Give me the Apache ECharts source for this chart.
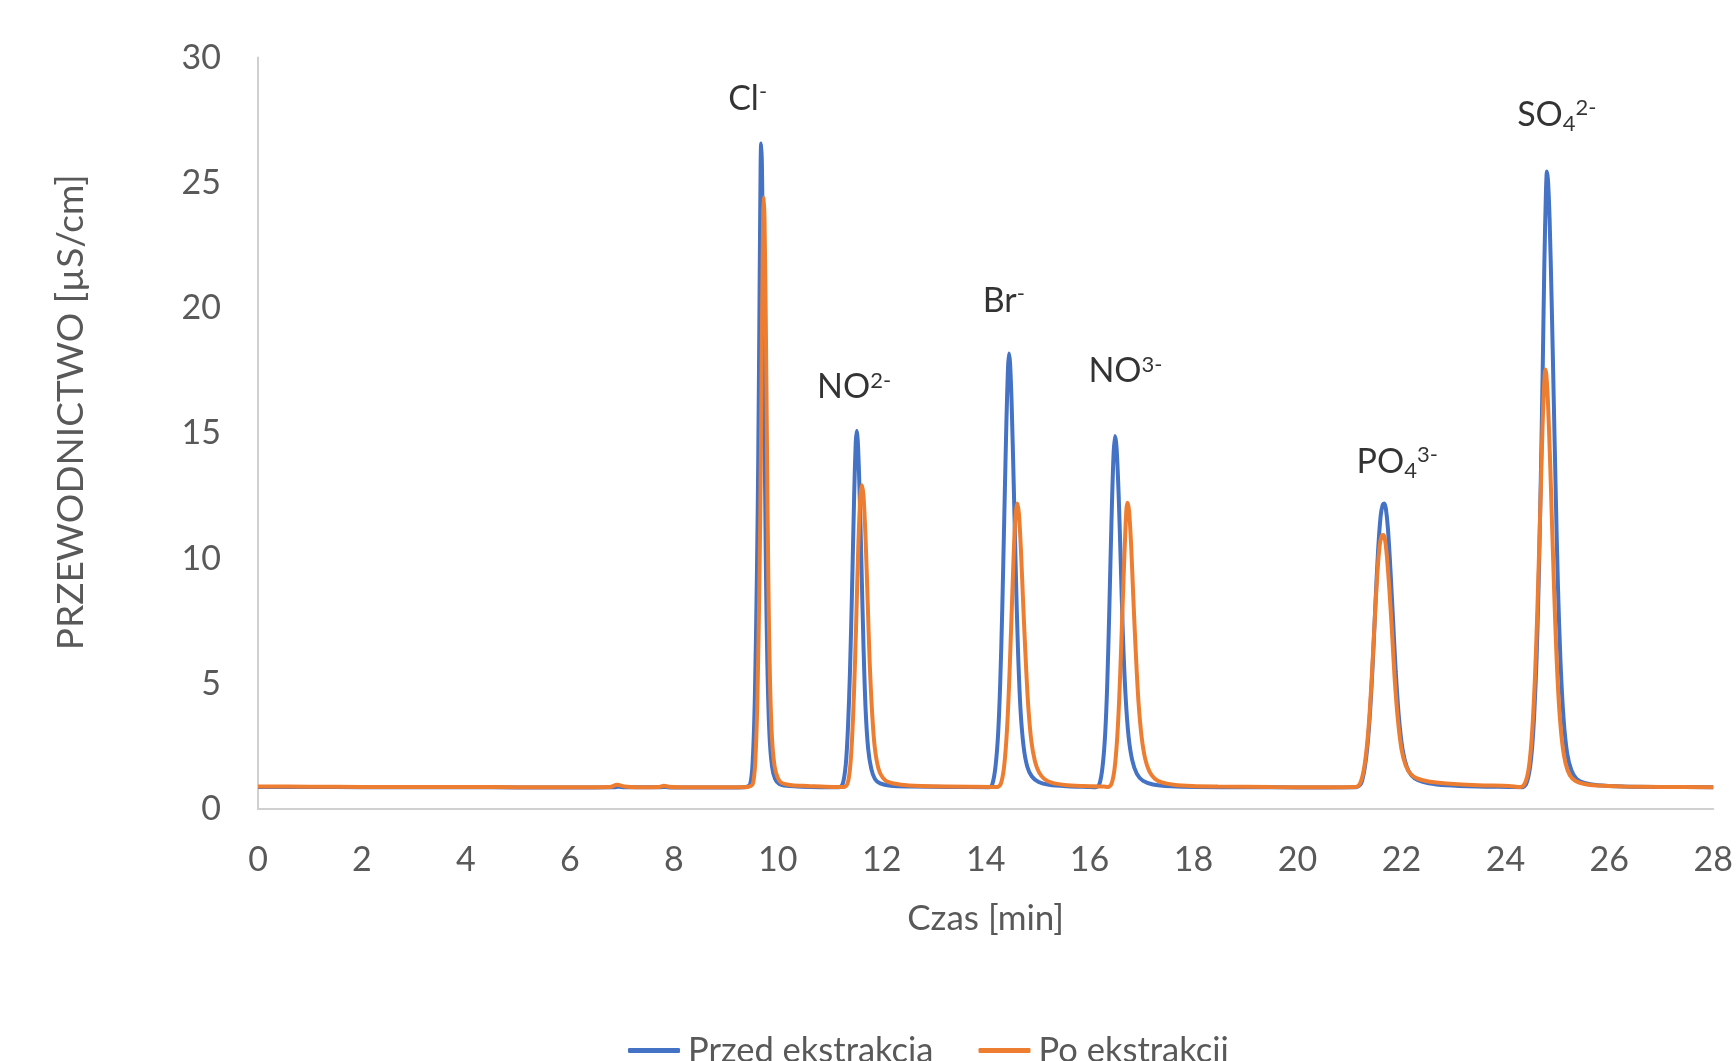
<!DOCTYPE html>
<html>
<head>
<meta charset="utf-8">
<script src="https://cdn.jsdelivr.net/npm/echarts@6/dist/echarts.min.js"></script>
<style>html,body{margin:0;padding:0;background:#fff;}#c{width:1736px;height:1061px;}</style>
</head>
<body>
<div id="c"></div>
<script>
// ---- data (time [min], conductivity [µS/cm]) ----
const seriesNames = ['Przed ekstrakcja', 'Po ekstrakcji'];

const przedData = [
[0,0.88],[1,0.88],[2,0.87],[3,0.87],[4,0.87],[5,0.86],[6,0.86],[6.85,0.87],[6.93,0.89],[7.05,0.87],[7.75,0.87],[7.83,0.88],[7.95,0.86],[9,0.86],
[9.37,0.87],[9.47,1.0],[9.52,2.0],[9.56,4.5],[9.60,9.5],[9.625,14],[9.65,20.5],[9.67,25.6],[9.68,26.57],[9.695,25.8],[9.72,21.5],[9.745,15.5],[9.77,10.0],[9.80,5.8],[9.84,3.0],[9.89,1.7],[9.95,1.2],[10.03,1.0],[10.17,0.93],[10.47,0.89],
[11.17,0.87],[11.25,1.0],[11.31,1.8],[11.35,3.2],[11.39,5.5],[11.43,8.8],[11.47,12.5],[11.50,14.6],[11.52,15.10],[11.54,14.7],[11.57,13.0],[11.61,9.8],[11.65,6.5],[11.69,4.0],[11.74,2.4],[11.80,1.6],[11.87,1.2],[11.97,1.02],[12.17,0.93],[12.57,0.9],[13.27,0.88],
[14.07,0.87],[14.13,1.0],[14.19,1.7],[14.24,3.0],[14.28,5.0],[14.32,8.0],[14.36,11.8],[14.40,15.5],[14.43,17.6],[14.45,18.19],[14.47,17.8],[14.50,16.2],[14.54,13.0],[14.58,9.5],[14.62,6.5],[14.67,4.0],[14.73,2.5],[14.80,1.7],[14.89,1.3],[15.02,1.08],[15.22,0.97],[15.57,0.91],[15.97,0.88],
[16.12,0.87],[16.19,1.0],[16.25,1.7],[16.30,3.0],[16.34,5.0],[16.38,8.0],[16.42,11.4],[16.46,14.1],[16.49,14.89],[16.52,14.4],[16.56,12.5],[16.60,9.8],[16.64,7.0],[16.69,4.6],[16.75,2.9],[16.82,1.95],[16.91,1.4],[17.03,1.12],[17.22,0.98],[17.57,0.91],[18.07,0.88],[19.0,0.87],[20.0,0.86],[21.12,0.87],
[21.22,1.0],[21.29,1.6],[21.35,2.6],[21.40,4.0],[21.45,5.9],[21.50,8.2],[21.55,10.3],[21.60,11.7],[21.64,12.15],[21.67,12.20],[21.70,12.0],[21.74,11.2],[21.79,9.5],[21.84,7.5],[21.89,5.5],[21.95,3.7],[22.02,2.4],[22.10,1.7],[22.19,1.35],[22.32,1.15],[22.52,1.03],[22.87,0.95],[23.47,0.9],[24.07,0.88],
[24.32,0.87],[24.40,1.0],[24.47,1.6],[24.52,2.6],[24.56,4.0],[24.60,6.0],[24.64,9.0],[24.68,13.0],[24.72,17.8],[24.75,21.8],[24.78,24.6],[24.80,25.45],[24.82,25.1],[24.85,23.6],[24.89,20.3],[24.93,16.4],[24.97,12.5],[25.01,9.0],[25.06,5.9],[25.12,3.6],[25.19,2.2],[25.27,1.55],[25.37,1.2],[25.52,1.04],[25.77,0.95],[26.27,0.9],[27.0,0.88],[28.0,0.87]
];

const poData = [
[0,0.90],[1,0.89],[2,0.88],[3,0.88],[4,0.88],[5,0.87],[6,0.87],[6.77,0.88],[6.91,0.97],[7.05,0.90],[7.27,0.87],[7.72,0.88],[7.81,0.93],[7.90,0.89],[8.1,0.87],[9,0.87],
[9.42,0.88],[9.52,1.0],[9.57,2.0],[9.61,4.5],[9.65,9.5],[9.675,14],[9.70,20],[9.72,23.8],[9.73,24.42],[9.745,23.6],[9.77,19.5],[9.795,14.0],[9.82,9.0],[9.85,5.2],[9.89,2.8],[9.94,1.7],[10.00,1.25],[10.07,1.05],[10.27,0.95],[10.57,0.92],[11.07,0.88],
[11.27,0.88],[11.34,1.0],[11.39,1.6],[11.43,2.8],[11.47,4.8],[11.51,7.5],[11.55,10.5],[11.59,12.5],[11.62,12.93],[11.65,12.5],[11.69,10.8],[11.73,8.3],[11.77,5.8],[11.82,3.7],[11.87,2.4],[11.94,1.6],[12.02,1.25],[12.12,1.08],[12.37,0.97],[12.77,0.92],[13.27,0.9],
[14.22,0.88],[14.29,1.0],[14.35,1.6],[14.40,2.8],[14.44,4.4],[14.48,6.6],[14.52,9.0],[14.56,11.2],[14.59,12.0],[14.61,12.20],[14.64,11.8],[14.68,10.3],[14.72,8.3],[14.77,6.0],[14.82,4.1],[14.88,2.7],[14.95,1.9],[15.03,1.45],[15.13,1.2],[15.27,1.05],[15.52,0.96],[15.87,0.92],[16.27,0.9],
[16.35,0.88],[16.42,1.0],[16.48,1.6],[16.53,2.8],[16.57,4.4],[16.61,6.6],[16.65,9.0],[16.69,11.2],[16.71,12.0],[16.73,12.23],[16.76,11.9],[16.80,10.5],[16.84,8.5],[16.89,6.2],[16.94,4.3],[17.00,2.9],[17.07,2.0],[17.15,1.5],[17.25,1.22],[17.39,1.06],[17.62,0.97],[17.97,0.92],[18.47,0.9],[19.5,0.88],[20.5,0.87],
[21.12,0.88],[21.20,1.0],[21.27,1.5],[21.33,2.4],[21.38,3.6],[21.43,5.3],[21.48,7.3],[21.53,9.2],[21.58,10.5],[21.62,10.9],[21.65,10.94],[21.68,10.8],[21.72,10.1],[21.77,8.7],[21.82,7.0],[21.87,5.2],[21.93,3.6],[22.00,2.4],[22.08,1.75],[22.17,1.42],[22.30,1.22],[22.52,1.1],[22.87,1.02],[23.47,0.95],[24.07,0.92],
[24.29,0.88],[24.37,1.0],[24.44,1.5],[24.49,2.4],[24.53,3.6],[24.57,5.3],[24.61,7.6],[24.65,10.4],[24.69,13.4],[24.72,15.6],[24.75,17.1],[24.77,17.55],[24.79,17.3],[24.82,16.2],[24.86,13.9],[24.90,11.2],[24.94,8.6],[24.98,6.3],[25.03,4.2],[25.09,2.7],[25.16,1.8],[25.24,1.35],[25.35,1.12],[25.52,1.0],[25.77,0.94],[26.27,0.9],[27.0,0.88],[28.0,0.87]
];

// peak annotations: position in data units + rich-text label
const peakLabelTimes  = [9.42, 11.47, 14.35, 16.69, 21.92, 24.99];
const peakLabelValues = [28.36, 16.83, 20.28, 17.47, 13.85, 27.70];
const peakLabelTexts  = ['{m|Cl}{p|-}', '{m|NO}{p|2-}', '{m|Br}{p|-}', '{m|NO}{p|3-}', '{m|PO}{s|4}{p|3-}', '{m|SO}{s|4}{p|2-}'];

const xTicks = {min: 0, max: 28, interval: 2};
const yTicks = {min: 0, max: 30, interval: 5};

// ---- chart ----
const FONT = 'Lato';
const GREY = '#595959';
const chart = echarts.init(document.getElementById('c'), null, {renderer: 'canvas'});

const labelData = peakLabelTimes.map((t, i) => ({value: [t, peakLabelValues[i]], text: peakLabelTexts[i]}));

chart.setOption({
  animation: false,
  backgroundColor: '#ffffff',
  textStyle: {fontFamily: FONT},
  grid: {left: 258, right: 13, top: 57.6, bottom: 252, containLabel: false},
  xAxis: {
    type: 'value', min: xTicks.min, max: xTicks.max, interval: xTicks.interval,
    name: 'Czas [min]', nameLocation: 'middle', nameGap: 92,
    nameTextStyle: {fontSize: 35, color: GREY, fontFamily: FONT},
    axisLine: {show: true, onZero: false, lineStyle: {color: '#D0D0D0', width: 2}},
    axisTick: {show: false},
    splitLine: {show: false},
    axisLabel: {fontSize: 34, color: GREY, margin: 34, fontFamily: FONT}
  },
  yAxis: {
    type: 'value', min: yTicks.min, max: yTicks.max, interval: yTicks.interval,
    name: 'PRZEWODNICTWO [µS/cm]', nameLocation: 'middle', nameGap: 168,
    nameTextStyle: {fontSize: 37, color: GREY, fontFamily: FONT, padding: [0, 0, 0, 42]},
    axisLine: {show: true, lineStyle: {color: '#D0D0D0', width: 2}},
    axisTick: {show: false},
    splitLine: {show: false},
    axisLabel: {fontSize: 34, color: GREY, margin: 37, fontFamily: FONT}
  },
  legend: {
    data: seriesNames,
    left: 623, top: 1028,
    icon: 'roundRect', itemWidth: 52, itemHeight: 5, itemGap: 45,
    textStyle: {fontSize: 34.5, color: GREY, fontFamily: FONT, padding: [0, 0, 0, 3]}
  },
  series: [
    {
      name: seriesNames[0], type: 'line', data: przedData, showSymbol: false,
      smooth: 0.3, lineStyle: {color: '#4472C4', width: 4}, itemStyle: {color: '#4472C4'}, z: 2
    },
    {
      name: seriesNames[1], type: 'line', data: poData, showSymbol: false,
      smooth: 0.3, lineStyle: {color: '#ED7D31', width: 4}, itemStyle: {color: '#ED7D31'}, z: 3
    },
    {
      name: 'labels', type: 'scatter', data: labelData, symbolSize: 0, silent: true, z: 4,
      label: {
        show: true, position: 'inside',
        formatter: p => p.data.text,
        rich: {
          m: {fontSize: 34, lineHeight: 40, color: '#000', fontFamily: FONT},
          p: {fontSize: 22, lineHeight: 22, color: '#000', fontFamily: FONT, verticalAlign: 'top', padding: [2, 0, 0, 0]},
          s: {fontSize: 22, lineHeight: 22, color: '#000', fontFamily: FONT, verticalAlign: 'bottom', padding: [0, 0, 0, 0]}
        }
      }
    }
  ]
});
</script>
</body>
</html>
